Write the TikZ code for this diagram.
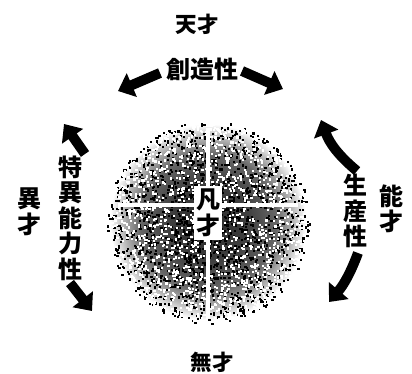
\documentclass[tikz,border=0pt]{standalone}
\usepackage{fontspec}
\setmainfont{Noto Sans CJK JP}
\usetikzlibrary{arrows.meta,calc}
\pgfdeclareradialshading{diskshade}{\pgfpoint{0bp}{0bp}}{%
  color(0bp)=(black!85); color(10bp)=(black!75); color(17bp)=(black!60);
  color(21bp)=(black!30); color(24.5bp)=(white); color(50bp)=(white)}
\tikzset{
  lbl/.style={inner sep=0pt, font=\bfseries\fontsize{24}{25.5}\selectfont, align=center},
  ttl/.style={inner sep=0pt, font=\bfseries\fontsize{21.5}{22}\selectfont},
  fatarrow/.style={line width=10pt, black, -{Triangle[length=15pt,width=25pt]}},
}
\begin{document}
\begin{tikzpicture}[x=1pt,y=-1pt]
\useasboundingbox (0,0) rectangle (412,374);
% disk
\shade[shading=diskshade] (208,222) circle (100);
\pgfmathsetseed{7}
\foreach \i in {1,...,1900}{
  \pgfmathsetmacro\ang{360*rnd}
  \pgfmathsetmacro\rad{101*rnd^0.6}
  \fill[black] ($(208,222)+(\ang:\rad)$) rectangle ++(2.2,2.2);
}
\foreach \i in {1,...,1500}{
  \pgfmathsetmacro\ang{360*rnd}
  \pgfmathsetmacro\rad{99*rnd^0.45}
  \fill[white] ($(208,222)+(\ang:\rad)$) rectangle ++(2.2,2.2);
}
% white cross
\draw[white, line width=4pt] (118,205) -- (298,205);
\draw[white, line width=4pt] (208,128) -- (208,318);
\node[lbl, fill=white, minimum width=28pt, minimum height=54pt] (c) at (208,213) {凡\\才};
% labels
\node[ttl] (top) at (197,24) {天才};
\node[ttl] (bot) at (212,362) {無才};
\node[lbl] (cre) at (202,69) {創造性};
\node[lbl] (spe) at (70,218) {特\\異\\能\\力\\性};
\node[lbl] (ijo) at (29,212) {異\\才};
\node[lbl] (pro) at (355,211) {生\\産\\性};
\node[lbl] (noh) at (391,209) {能\\才};
% arrow coordinates
\coordinate (a1s) at (160,73);
\coordinate (a1e) at (118,91);
\coordinate (a2s) at (242,71);
\coordinate (a2e) at (283,89);
\coordinate (a3s) at (85,154);
\coordinate (a3e) at (64,124);
\coordinate (a4s) at (70,283);
\coordinate (a4e) at (92,311);
\coordinate (a5s) at (357,171);
\coordinate (a5e) at (321,120);
\coordinate (a6s) at (358,253);
\coordinate (a6e) at (329,302);
\draw[fatarrow] (a1s) -- (a1e);
\draw[fatarrow] (a2s) -- (a2e);
\draw[fatarrow] (a3s) -- (a3e);
\draw[fatarrow] (a4s) -- (a4e);
\draw[fatarrow] (a5s) to[bend left=15] (a5e);
\draw[fatarrow] (a6s) to[bend left=10] (a6e);
\end{tikzpicture}
\end{document}
